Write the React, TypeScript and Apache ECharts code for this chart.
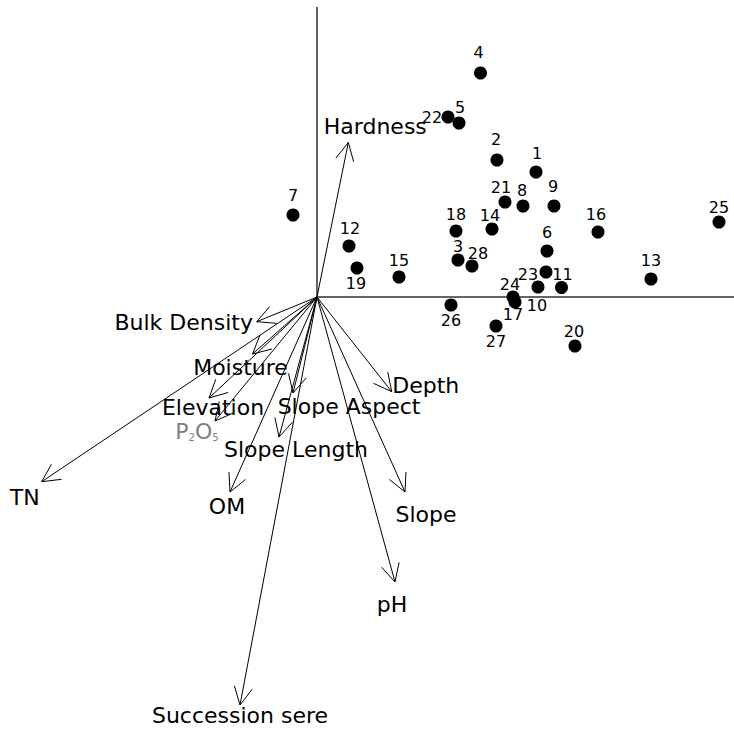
import React, { useEffect, useRef } from "react";
import * as echarts from "echarts";

// Site scores (CCA axis 1, axis 2)
const siteNames = ["1","2","3","4","5","6","7","8","9","10","11","12","13","14","15","16","17","18","19","20","21","22","23","24","25","26","27","28"];
const siteX = [2.19, 1.80, 1.41, 1.635, 1.42, 2.30, -0.24, 2.06, 2.37, 2.21, 2.445, 0.32, 3.34, 1.75, 0.82, 2.81, 1.98, 1.39, 0.40, 2.58, 1.88, 1.31, 2.29, 1.96, 4.02, 1.34, 1.79, 1.55];
const siteY = [1.25, 1.37, 0.37, 2.24, 1.74, 0.46, 0.82, 0.91, 0.91, 0.10, 0.095, 0.51, 0.18, 0.68, 0.20, 0.65, -0.05, 0.66, 0.29, -0.49, 0.95, 1.80, 0.25, 0.00, 0.75, -0.08, -0.29, 0.31];

// Environmental vectors (biplot arrows)
const vectorNames = ["Hardness", "Bulk Density", "Moisture", "Elevation", "P2O5", "Slope Aspect", "Slope Length", "OM", "TN", "Succession sere", "pH", "Slope", "Depth"];
const vectorX = [0.313, -0.603, -0.645, -1.08, -1.02, -0.24, -0.38, -0.87, -2.753, -0.77, 0.78, 0.88, 0.747];
const vectorY = [1.545, -0.247, -0.57, -1.01, -1.24, -0.96, -1.40, -1.95, -1.847, -4.08, -2.85, -1.95, -0.947];

// Axis extents
const xMin = -3.17, xMax = 4.17, yMin = -4.33, yMax = 2.97;
const axisTop = 2.9, axisRight = 4.17;

// Layout (label offsets in pixels)
const siteLabelOffsets: Record<string, [number, number]> = {
  "1": [1, -19], "2": [-1, -21], "3": [0, -14], "4": [-2, -21], "5": [1, -16], "6": [0, -19],
  "7": [0, -20], "8": [-1, -16], "9": [-1, -20], "10": [-1, 18], "11": [1, -13], "12": [1, -18],
  "13": [0, -19], "14": [-2, -14], "15": [0, -17], "16": [-2, -18], "17": [-2, 12], "18": [0, -17],
  "19": [-1, 15], "20": [-1, -15], "21": [-4, -15], "22": [-16, 0], "23": [-18, 2], "24": [-3, -13],
  "25": [0, -15], "26": [0, 15], "27": [0, 15], "28": [6, -13],
};
const vectorLabelOffsets: Record<string, [number, number]> = {
  "Hardness": [27, -16], "Bulk Density": [-73, 1], "Moisture": [-12, 13], "Elevation": [4, 9],
  "P2O5": [-18, 10], "Slope Aspect": [56, 13], "Slope Length": [17, 12], "OM": [-3, 14],
  "TN": [-17, 16], "Succession sere": [0, 10], "pH": [-3, 22], "Slope": [21, 22], "Depth": [34, -6],
};

const FONT = "DejaVu Sans";
const LIGHT_FONT = "'DejaVu Sans ExtraLight', 'DejaVu Sans'";

export default function App() {
  const ref = useRef<HTMLDivElement>(null);
  useEffect(() => {
    if (!ref.current) return;
    const chart = echarts.init(ref.current, undefined, { renderer: "svg" });
    const siteData = siteNames.map((n, i) => ({
      name: n,
      value: [siteX[i], siteY[i]],
      label: { offset: siteLabelOffsets[n] },
    }));
    const vectorData = vectorNames.map((n, i) => [vectorX[i], vectorY[i]]);
    const option: any = {
      animation: false,
      backgroundColor: "#fff",
      grid: { left: 0, right: 0, top: 0, bottom: 0, containLabel: false },
      xAxis: { type: "value", min: xMin, max: xMax, show: false },
      yAxis: { type: "value", min: yMin, max: yMax, show: false },
      series: [
        {
          type: "lines",
          coordinateSystem: "cartesian2d",
          silent: true,
          z: 1,
          lineStyle: { color: "#333", width: 1.5, opacity: 1 },
          data: [
            { coords: [[0, axisTop], [0, 0]] },
            { coords: [[0, 0], [axisRight, 0]] },
          ],
        },
        {
          type: "custom",
          coordinateSystem: "cartesian2d",
          z: 2,
          clip: false,
          encode: { x: 0, y: 1 },
          data: vectorData,
          renderItem: (params: any, api: any) => {
            const name = vectorNames[params.dataIndex];
            const o = api.coord([0, 0]);
            const t = api.coord([api.value(0), api.value(1)]);
            const dx = t[0] - o[0], dy = t[1] - o[1];
            const len = Math.hypot(dx, dy) || 1;
            const bx = -dx / len, by = -dy / len;
            const L = 20, a = (27 * Math.PI) / 180;
            const ca = Math.cos(a), sa = Math.sin(a);
            const w1 = [t[0] + L * (bx * ca - by * sa), t[1] + L * (bx * sa + by * ca)];
            const w2 = [t[0] + L * (bx * ca + by * sa), t[1] + L * (-bx * sa + by * ca)];
            const off = vectorLabelOffsets[name] || [0, 0];
            const isP = name === "P2O5";
            const textEl: any = {
              type: "text",
              x: t[0] + off[0],
              y: t[1] + off[1],
              style: isP
                ? {
                    text: "{a|P}{b|2}{a|O}{b|5}",
                    align: "center",
                    verticalAlign: "middle",
                    fill: "#808080",
                    rich: {
                      a: { fontSize: 22, fontFamily: FONT, fill: "#808080", color: "#808080" },
                      b: { fontSize: 10, fontFamily: FONT, fill: "#808080", color: "#808080", verticalAlign: "bottom", padding: [6, 0, 0, 0] },
                    },
                  }
                : {
                    text: name,
                    align: "center",
                    verticalAlign: "middle",
                    fontSize: 22,
                    fontFamily: LIGHT_FONT,
                    fill: "#000",
                  },
            };
            return {
              type: "group",
              children: [
                { type: "line", shape: { x1: o[0], y1: o[1], x2: t[0], y2: t[1] }, style: { stroke: "#000", lineWidth: 1 } },
                { type: "polyline", shape: { points: [w1, t, w2] }, style: { stroke: "#000", fill: null, lineWidth: 1 } },
                textEl,
              ],
            };
          },
        },
        {
          type: "scatter",
          z: 3,
          symbol: "circle",
          symbolSize: 13,
          itemStyle: { color: "#000", opacity: 1 },
          label: {
            show: true,
            position: "inside",
            formatter: "{b}",
            color: "#000",
            fontSize: 16,
            fontFamily: FONT,
          },
          data: siteData,
        },
      ],
    };
    chart.setOption(option);
    return () => chart.dispose();
  }, []);
  return <div ref={ref} style={{ position: "absolute", left: 0, top: 0, width: 734, height: 730 }} />;
}
